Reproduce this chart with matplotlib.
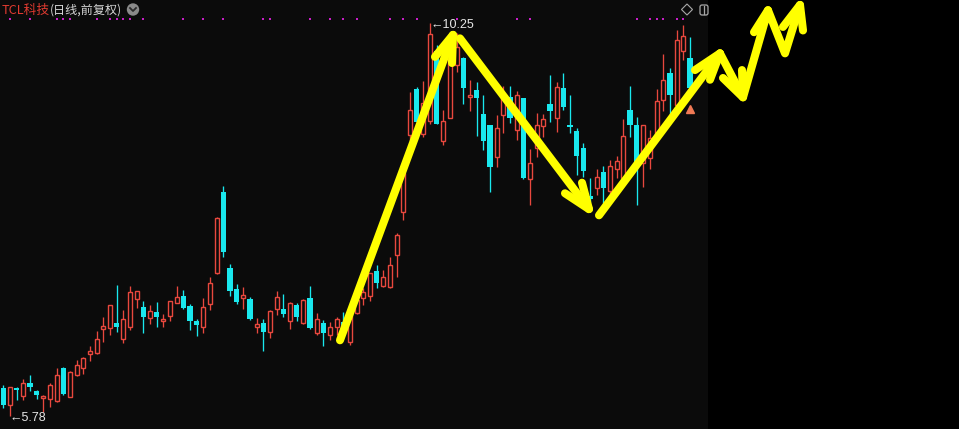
import matplotlib
matplotlib.use("Agg")
import matplotlib.pyplot as plt
import numpy as np
from matplotlib.patches import Circle, Polygon, FancyBboxPatch
from matplotlib.transforms import IdentityTransform, blended_transform_factory
from matplotlib.lines import Line2D

# ---------------- data (daily candles, forward-adjusted) ----------------
opens = [6.10, 5.90, 6.09, 6.01, 6.15, 6.06, 5.98, 5.97, 5.95, 6.33,
         6.00, 6.25, 6.33, 6.48, 6.49, 6.77, 6.78, 6.84, 6.66, 6.79,
         7.11, 7.02, 6.89, 6.96, 6.86, 6.92, 7.06, 7.14, 7.03, 6.86,
         6.79, 7.05, 7.40, 8.32, 7.46, 7.22, 7.12, 7.11, 6.79, 6.84,
         6.73, 6.99, 7.00, 6.86, 7.04, 6.84, 7.12, 6.72, 6.84, 6.70,
         6.79, 6.85, 6.62, 6.95, 7.12, 7.14, 7.43, 7.26, 7.25, 7.61,
         8.10, 8.97, 9.50, 8.98, 9.13, 9.93, 8.90, 9.17, 9.77, 9.85,
         9.40, 9.48, 9.21, 9.09, 8.72, 9.20, 9.40, 9.03, 9.39, 8.47,
         8.82, 9.08, 9.33, 9.17, 9.51, 9.09, 9.02, 8.82, 8.28, 8.37,
         8.55, 8.34, 8.59, 8.48, 9.26, 9.09, 8.65, 8.71, 8.97, 9.37,
         9.68, 9.31, 9.93, 9.85]
highs = [6.13, 6.11, 6.11, 6.20, 6.24, 6.08, 6.02, 6.16, 6.33, 6.34,
         6.29, 6.42, 6.45, 6.57, 6.75, 6.90, 7.04, 7.27, 6.98, 7.26,
         7.20, 7.09, 7.04, 7.07, 6.94, 7.09, 7.26, 7.21, 7.05, 6.88,
         7.12, 7.36, 8.04, 8.39, 7.51, 7.28, 7.24, 7.13, 6.89, 6.88,
         6.98, 7.20, 7.17, 7.07, 7.06, 7.11, 7.26, 6.95, 6.87, 6.85,
         6.91, 6.96, 6.97, 7.21, 7.23, 7.40, 7.50, 7.44, 7.59, 7.86,
         8.55, 9.46, 9.52, 9.59, 10.25, 9.99, 9.26, 10.11, 10.13, 9.86,
         9.60, 9.58, 9.43, 9.09, 9.20, 9.53, 9.53, 9.47, 9.39, 8.81,
         9.22, 9.21, 9.65, 9.57, 9.68, 9.43, 9.05, 8.88, 8.48, 8.59,
         8.62, 8.69, 8.73, 9.15, 9.53, 9.18, 9.09, 9.03, 9.49, 9.89,
         9.73, 10.16, 10.22, 10.08]
lows = [5.87, 5.78, 5.96, 5.96, 6.06, 5.97, 5.83, 5.88, 5.94, 6.02,
        6.00, 6.23, 6.26, 6.41, 6.48, 6.62, 6.70, 6.73, 6.61, 6.76,
        7.01, 6.72, 6.83, 6.79, 6.79, 6.86, 7.06, 6.99, 6.76, 6.69,
        6.72, 6.98, 7.39, 7.59, 7.14, 7.05, 6.99, 6.87, 6.72, 6.52,
        6.67, 6.93, 6.90, 6.77, 6.86, 6.83, 6.77, 6.70, 6.57, 6.64,
        6.70, 6.70, 6.59, 6.94, 7.04, 7.09, 7.23, 7.25, 7.23, 7.36,
        8.01, 8.90, 9.10, 8.95, 9.10, 9.10, 8.86, 9.16, 9.69, 9.33,
        9.24, 8.96, 8.80, 8.32, 8.61, 9.00, 9.11, 8.92, 8.47, 8.18,
        8.72, 8.95, 9.12, 9.01, 9.26, 8.99, 8.52, 8.50, 8.21, 8.29,
        8.20, 8.29, 8.48, 8.38, 8.95, 8.18, 8.38, 8.59, 8.95, 9.24,
        9.10, 9.26, 9.82, 9.48]
closes = [5.91, 6.11, 6.08, 6.15, 6.11, 6.02, 6.01, 6.13, 6.25, 6.03,
          6.28, 6.36, 6.44, 6.52, 6.66, 6.80, 7.04, 6.79, 6.88, 7.19,
          7.20, 6.90, 6.97, 6.90, 6.88, 7.09, 7.13, 7.01, 6.86, 6.81,
          7.02, 7.29, 8.03, 7.64, 7.20, 7.07, 7.16, 6.88, 6.83, 6.73,
          6.97, 7.13, 6.94, 7.06, 6.91, 7.10, 6.78, 6.88, 6.72, 6.79,
          6.88, 6.78, 6.95, 7.10, 7.19, 7.40, 7.29, 7.36, 7.49, 7.84,
          8.54, 9.26, 9.12, 9.34, 10.12, 9.10, 9.13, 9.96, 9.97, 9.51,
          9.43, 9.39, 8.90, 8.61, 9.05, 9.39, 9.16, 9.43, 8.48, 8.65,
          9.09, 9.15, 9.24, 9.52, 9.29, 9.06, 8.73, 8.56, 8.25, 8.49,
          8.37, 8.62, 8.68, 8.96, 9.09, 8.67, 9.09, 8.94, 9.36, 9.60,
          9.43, 10.05, 10.10, 9.51]

high_label = "10.25"
low_label = "5.78"
high_idx = 64
low_idx = 1

# indicator signal dots (bar indices)
signal_idx = [1, 4, 8, 9, 10, 14, 16, 17, 18, 19, 21, 27, 30, 33, 39, 40, 46,
              49, 51, 53, 58, 60, 62, 68, 77, 79, 95, 97, 98, 99, 101, 102]
# buy marker
marker_idx = 103
marker_price = 9.27

# hand-drawn yellow annotation strokes (bar index, price)
strokes = [
    [(50.5, 6.64), (67.45, 10.11)],
    [(64.75, 9.86), (67.45, 10.11), (67.3, 9.79)],
    [(68.5, 10.07), (87.85, 8.13)],
    [(84.25, 8.31), (87.85, 8.13), (86.8, 8.43)],
    [(89.35, 8.06), (107.5, 9.90)],
    [(103.75, 9.71), (107.5, 9.90), (106.0, 9.60)],
    [(107.5, 9.90), (110.95, 9.40), (114.7, 10.39), (117.25, 9.90), (119.5, 10.45)],
    [(107.95, 9.62), (110.95, 9.40), (110.8, 9.71)],
    [(112.6, 10.14), (114.7, 10.39)],
    [(116.95, 10.20), (119.5, 10.45), (119.95, 10.16)],
]

title_name = "TCL科技"
title_rest = "(日线,前复权)"

# ---------------- style ----------------
W, H = 959, 429
PANEL = "#0b0b0b"
RED = "#e8483e"
CYAN = "#19e8ee"
CJK = ["Noto Sans CJK SC", "DejaVu Sans"]
NUM = ["Liberation Sans", "DejaVu Sans"]

fig = plt.figure(figsize=(W / 100, H / 100), dpi=100, facecolor="black")
ax = fig.add_axes([0, 0, 708 / W, 1])
ax.set_facecolor(PANEL)
for s in ax.spines.values():
    s.set_visible(False)
ax.set_xticks([])
ax.set_yticks([])
ax.set_xlim(-0.495, 105.7)
ax.set_ylim(5.632, 10.506)

o = np.array(opens)
h = np.array(highs)
l = np.array(lows)
c = np.array(closes)
x = np.arange(len(o))
up = c >= o
bot = np.minimum(o, c)
bh = np.maximum(np.abs(c - o), 0.014)

ax.vlines(x[up], l[up], h[up], color=RED, lw=0.95, zorder=2)
ax.vlines(x[~up], l[~up], h[~up], color=CYAN, lw=0.95, zorder=2)
ax.bar(x[up], bh[up], bottom=bot[up], width=0.62, facecolor=PANEL,
       edgecolor=RED, linewidth=1.0, zorder=3)
ax.bar(x[~up], bh[~up], bottom=bot[~up], width=0.76, color=CYAN,
       linewidth=0, zorder=3)

# signal dots
bt = blended_transform_factory(ax.transData, ax.transAxes)
ax.scatter(signal_idx, [1 - 19 / H] * len(signal_idx), transform=bt,
           marker="s", s=3.5, color="#c81ec8", linewidths=0, zorder=4)

# buy marker
ax.plot([marker_idx], [marker_price], marker="^", ms=5.5, color="#f07a55",
        mec="#f07a55", ls="none", zorder=4)

# yellow strokes
for st in strokes:
    xs = [p[0] for p in st]
    ys = [p[1] for p in st]
    ln = Line2D(xs, ys, color="#ffff00", lw=5.8, solid_capstyle="round",
                solid_joinstyle="round", zorder=6, clip_on=False)
    ax.add_line(ln)

# high / low labels
ax.text(high_idx + 0.1, highs[high_idx] - 0.03, "\u2190" + high_label,
        color="#e6e6e6", fontsize=9, family=NUM, ha="left", va="center",
        zorder=7)
ax.text(low_idx, lows[low_idx] - 0.018, "\u2190" + low_label,
        color="#e6e6e6", fontsize=9, family=NUM, ha="left", va="center",
        zorder=7)

# title
fig.text(2 / W, 1 - 10 / H, title_name, color="#e03a30", fontsize=9.2,
         family=CJK, ha="left", va="center")
fig.text(50 / W, 1 - 10 / H, title_rest, color="#d6d6d6", fontsize=8.7,
         family=CJK, ha="left", va="center")

idt = IdentityTransform()
fig.add_artist(Circle((133, H - 9.5), 6.2, transform=idt,
                      facecolor="#8a8a8a", edgecolor="none"))
fig.add_artist(Line2D([130, 133, 136], [H - 8, H - 11, H - 8], transform=idt,
                      color="#2a2a2a", lw=1.3))

# top-right icons
fig.add_artist(Polygon([(687, H - 4), (692.5, H - 9.5), (687, H - 15),
                        (681.5, H - 9.5)], closed=True, transform=idt,
                       fill=False, edgecolor="#a8a8a8", lw=0.8))
fig.add_artist(FancyBboxPatch((700, H - 15), 8, 10,
                              boxstyle="round,pad=0,rounding_size=2",
                              transform=idt, fill=False,
                              edgecolor="#a8a8a8", lw=0.9))
fig.add_artist(Line2D([703.5, 703.5], [H - 14, H - 6], transform=idt,
                      color="#a8a8a8", lw=0.9))

fig.savefig("out.png", dpi=100, facecolor="black")
